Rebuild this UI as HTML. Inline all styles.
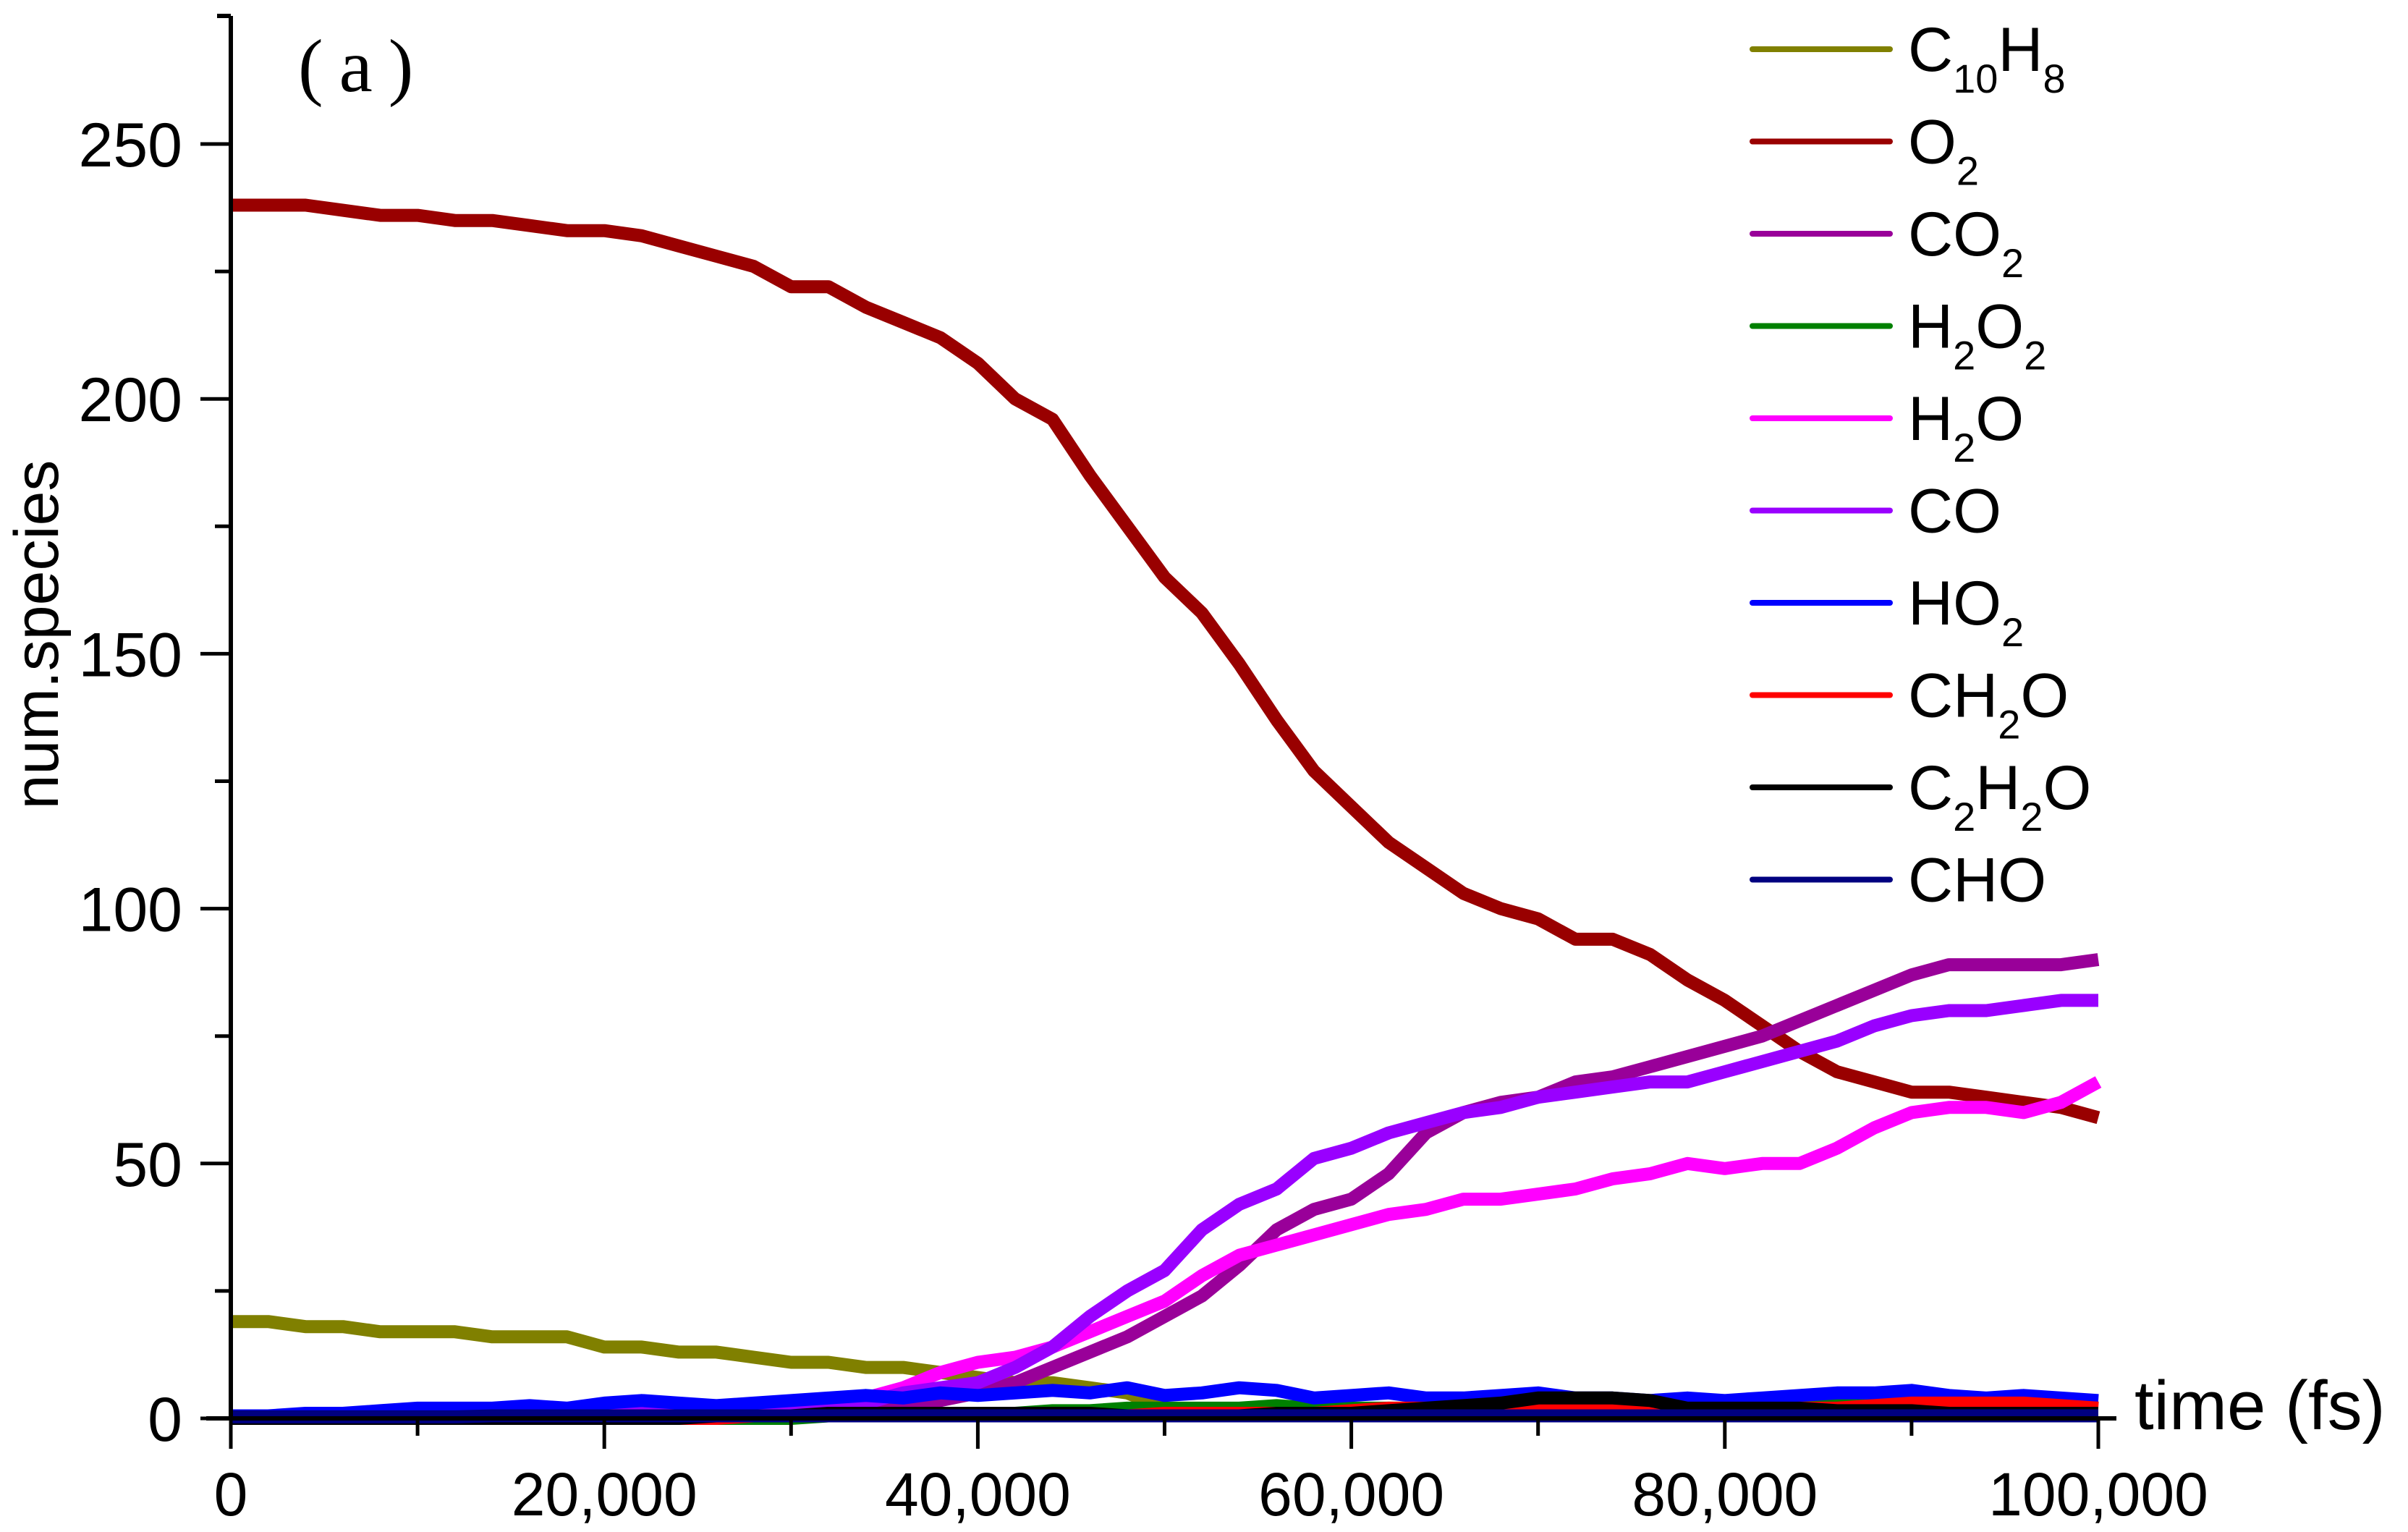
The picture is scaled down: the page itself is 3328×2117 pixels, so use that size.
<!DOCTYPE html>
<html><head><meta charset="utf-8"><style>
html,body{margin:0;padding:0;background:#fff;}
svg{display:block;font-family:"Liberation Sans",Arial,sans-serif;}
</style></head><body>
<svg id="chart" width="3328" height="2117" viewBox="0 0 3328 2117" xmlns="http://www.w3.org/2000/svg">
<g id="plot"></g>
<g id="axes"></g>
<g id="legend"></g>
<text x="412" y="126" font-family="Liberation Serif, serif" font-size="104" letter-spacing="22">(a)</text>
<text transform="translate(80,877) rotate(-90)" text-anchor="middle" font-size="86">num.species</text>
<text x="2950" y="1975" font-size="96">time (fs)</text>
</svg>
<script>
const times = [];
for (let i = 0; i <= 50; i++) times.push(i * 2000);
const xTicks = [0, 20000, 40000, 60000, 80000, 100000];
const xTickLabels = ["0", "20,000", "40,000", "60,000", "80,000", "100,000"];
const yTicks = [0, 50, 100, 150, 200, 250];
const yTickLabels = ["0", "50", "100", "150", "200", "250"];
const seriesNames = ["C10H8","O2","CO2","H2O2","H2O","CO","HO2","CH2O","C2H2O","CHO"];
const c10h8 = [19,19,18,18,17,17,17,16,16,16,14,14,13,13,12,11,11,10,10,9,8,7,7,6,5,2,1,1,1,1,1,1,0.5,0.5,0.5,0.5,0.5,0.5,0.5,0.5,0.5,0.5,0.5,0.5,0.5,0.5,0.5,0.5,0.5,0.5,0.5];
const o2 = [238,238,238,237,236,236,235,235,234,233,233,232,230,228,226,222,222,218,215,212,207,200,196,185,175,165,158,148,137,127,120,113,108,103,100,98,94,94,91,86,82,77,72,68,66,64,64,63,62,61,59];
const co2 = [0,0,0,0,0,0.5,0.5,0.5,0.5,0.5,1,1,1,1,1.5,2,2,2.5,3,3.5,5,7,10,13,16,20,24,30,37,41,43,48,56,60,62,63,66,67,69,71,73,75,78,81,84,87,89,89,89,89,90];
const h2o2 = [0,0,0,0,0,0,0,0,0,0,0,0,0,0,0,0,0.5,0.5,0.5,1,1,1,1.5,1.5,2,2,2,2,2.5,2,2,2,2,2,2,2.5,2.5,2,2,2,2.5,3,3,3,2.5,2.5,2.5,2.5,2,2.5,2.5];
const h2o = [0,0,0,0,0,0,0.5,0.5,0.5,0.5,0.5,1,1,1,1.5,2,3,4,6,9,11,12,14,17,20,23,28,32,34,36,38,40,41,43,43,44,45,47,48,50,49,50,50,53,57,60,61,61,60,62,66];
const co = [0,0,0,0,0,0,0.5,0.5,0.5,0.5,0.5,1,1,1,1.5,2,2.5,3,5,6,7,10,14,20,25,29,37,42,45,51,53,56,58,60,61,63,64,65,66,66,68,70,72,74,77,79,80,80,81,82,82];
const ho2 = [0.5,0.5,1,1,1.5,2,2,2,2.5,2,3,3.5,3,2.5,3,3.5,4,4.5,4,5,4.5,5,5.5,5,6,4.5,5,6,5.5,4,4.5,5,4,4,4.5,5,4,4,3.5,4,3.5,4,4.5,5,5,5.5,4.5,4,4.5,4,3.5];
const ch2o = [0,0,0,0,0,0,0,0,0,0,0,0,0,0,0.5,0.5,0.5,0.5,0.5,0.5,0.5,0.5,0.5,0.5,0.5,1,1,1,1,1,1.5,2,2,1.5,1.5,2,2,1.5,1.5,1,1.5,1.5,2,2,2.5,3,3,3,3,2.5,2];
const c2h2o = [0,0,0,0,0,0,0,0,0,0,0,0,0,0.5,0.5,0.5,1,1,1,1,1,1,1,1,0.5,0.5,0.5,0.5,1,1,1,1.5,2,2.5,3,4,4,4,3.5,2,2,2,2,1.5,1.5,1.5,1,1,1,1,1];
const cho = [0.3,0.3,0.3,0.3,0.3,0.3,0.3,0.5,0.5,0.5,0.5,0.5,0.5,0.5,0.5,0.5,0.5,0.5,0.5,0.5,0.5,0.5,0.5,0.5,0.5,0.5,0.5,0.5,0.5,0.5,0.5,0.5,0.5,0.5,0.5,0.5,0.5,0.5,0.5,0.5,0.5,0.5,0.5,0.5,0.5,0.5,0.5,0.5,0.5,0.5,0.5];

const NS = "http://www.w3.org/2000/svg";
const X0 = 319, X1 = 2900, Y0 = 1960, PXU = 7.044;
function xs(t){ return X0 + (t/100000)*(X1-X0); }
function ys(v){ return Y0 - v*PXU; }
function mk(tag, attrs, parent){ const e=document.createElementNS(NS,tag); for(const k in attrs) e.setAttribute(k,attrs[k]); parent.appendChild(e); return e; }

const plot = document.getElementById('plot');
const series = [
 ["c10h8", c10h8, "#808000"],["o2", o2, "#990000"],["co2", co2, "#990099"],["h2o2", h2o2, "#008000"],
 ["h2o", h2o, "#ff00ff"],["co", co, "#9900ff"],["ho2", ho2, "#0000ff"],["ch2o", ch2o, "#ff0000"],
 ["c2h2o", c2h2o, "#000000"],["cho", cho, "#000080"]];
series.forEach(([n, vals, col]) => {
  const d = vals.map((v,i) => (i?'L':'M') + xs(times[i]).toFixed(1) + ',' + ys(v).toFixed(1)).join(' ');
  const p = mk('path', {d:d, fill:'none', stroke:col, 'stroke-width':18, 'stroke-linejoin':'round'}, plot);
  
  
});

const axes = document.getElementById('axes');
mk('line',{x1:X0,y1:22,x2:X0,y2:Y0+2,stroke:'#000','stroke-width':6},axes);
mk('line',{x1:285,y1:Y0,x2:2925,y2:Y0,stroke:'#000','stroke-width':6},axes);
mk('line',{x1:X0,y1:22,x2:300,y2:22,stroke:'#000','stroke-width':6},axes);
for (let t=0; t<=100000; t+=10000){
  const major = t%20000===0;
  mk('line',{x1:xs(t),y1:Y0,x2:xs(t),y2:Y0+(major?42:24),stroke:'#000','stroke-width':5},axes);
}
for (let v=0; v<=250; v+=25){
  const major = v%50===0;
  mk('line',{x1:X0,y1:ys(v),x2:X0-(major?42:22),y2:ys(v),stroke:'#000','stroke-width':5},axes);
}
xTicks.forEach((t,i)=>{
  const e = mk('text',{x:xs(t),y:2094,'text-anchor':'middle','font-size':84},axes);
  e.textContent = xTickLabels[i];
  
  
});
yTicks.forEach((v,i)=>{
  const e = mk('text',{x:252,y:ys(v)+31,'text-anchor':'end','font-size':86},axes);
  e.textContent = yTickLabels[i];
  
  
});

const legend = document.getElementById('legend');
const legendLabels = [["C",["10"],"H",["8"]],["O",["2"]],["CO",["2"]],["H",["2"],"O",["2"]],["H",["2"],"O"],["CO"],["HO",["2"]],["CH",["2"],"O"],["C",["2"],"H",["2"],"O"],["CHO"]];
series.forEach(([n,vals,col],i)=>{
  const y = 68 + i*127.5;
  const g = mk('g',{},legend);
  
  
  mk('line',{x1:2422,y1:y,x2:2612,y2:y,stroke:col,'stroke-width':8,'stroke-linecap':'round'},g);
  const t = mk('text',{x:2637,y:y+30,'font-size':86},g);
  legendLabels[i].forEach(part=>{
    const s = document.createElementNS(NS,'tspan');
    if (Array.isArray(part)) { s.textContent = part[0]; s.setAttribute('font-size','56'); s.setAttribute('dy','30'); }
    else { s.textContent = part; s.setAttribute('dy', t.childNodes.length && Array.isArray(legendLabels[i][t.childNodes.length-1]) ? '-30' : '0'); }
    t.appendChild(s);
  });
});
</script>
</body></html>
